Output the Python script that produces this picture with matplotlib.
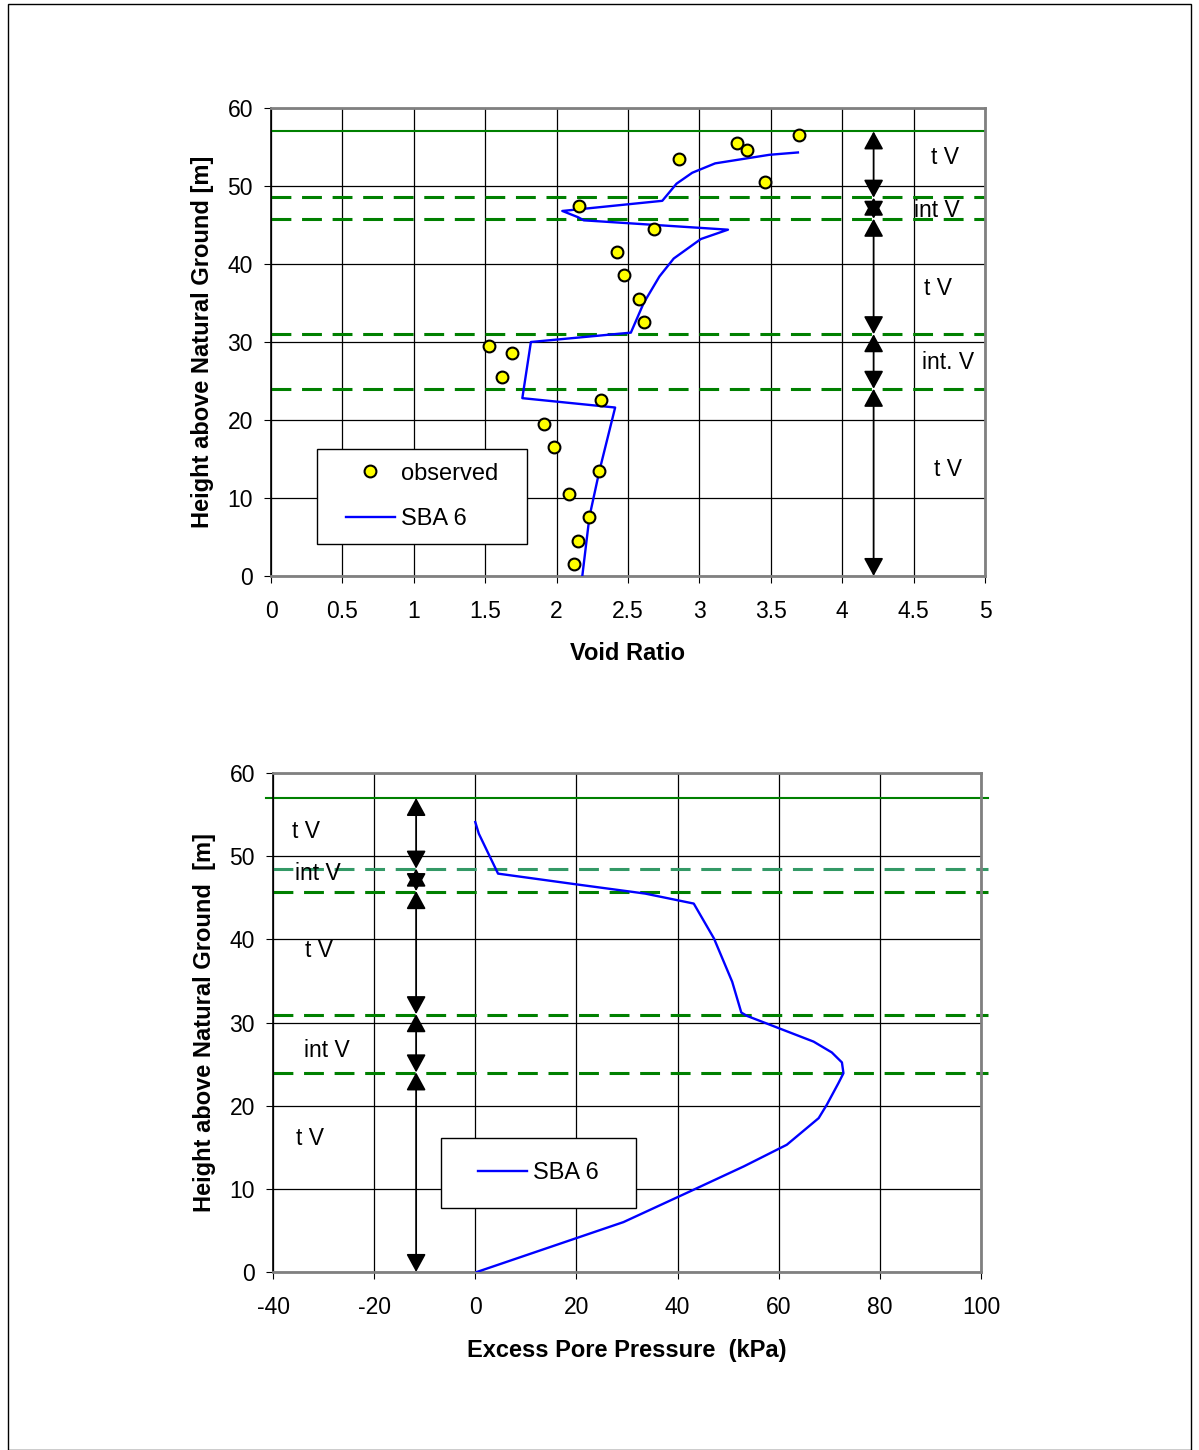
import numpy as np
import matplotlib.pyplot as plt
from matplotlib.patches import Rectangle

plt.rcParams['font.family'] = ['Liberation Sans', 'DejaVu Sans']
plt.rcParams['axes.unicode_minus'] = False

# observed void ratio vs height
obs_e = [3.70, 3.26, 3.33, 2.86, 3.46, 2.16, 2.68, 2.42, 2.47, 2.58, 2.61,
         1.53, 1.69, 1.62, 2.31, 1.91, 1.98, 2.30, 2.09, 2.23, 2.15, 2.12]
obs_h = [56.5, 55.5, 54.6, 53.5, 50.5, 47.4, 44.5, 41.5, 38.6, 35.5, 32.6,
         29.5, 28.6, 25.5, 22.6, 19.5, 16.5, 13.5, 10.5, 7.6, 4.5, 1.5]

# SBA 6 void ratio profile
sba_e = [3.69, 3.49, 3.11, 2.95, 2.84, 2.74, 2.04, 2.15, 2.19, 3.20, 3.01,
         2.82, 2.72, 2.61, 2.52, 1.82, 1.76, 2.41, 2.30, 2.23, 2.18]
sba_h = [54.3, 54.0, 52.9, 51.7, 50.3, 48.1, 46.8, 46.0, 45.6, 44.4, 43.2,
         40.7, 38.4, 35.0, 31.2, 30.0, 22.8, 21.6, 13.5, 7.6, 0.0]

# SBA 6 excess pore pressure profile
sba_u = [0.0, 0.7, 4.5, 20.1, 33.6, 43.2, 47.2, 50.8, 52.6, 53.7, 66.9, 70.5,
         72.5, 72.8, 71.8, 69.5, 67.9, 61.6, 53.1, 43.2, 29.3, 0.3]
sba_uh = [54.1, 52.7, 47.9, 46.6, 45.5, 44.3, 40.1, 34.9, 31.2, 30.8, 27.7, 26.4,
          25.2, 23.9, 22.7, 20.1, 18.5, 15.3, 12.7, 9.9, 6.0, 0.0]

# layer boundaries and labels
ground = 57.0
bounds_top = [48.6, 45.8, 31.0, 24.0]
bounds_bot = [48.5, 45.7, 30.9, 23.9]
segments = [(57, 48.5), (48.5, 45.8), (45.8, 31), (31, 24), (24, 0)]
lab_top = ['t V', 'int V', 't V', 'int. V', 't V']
lab_top_x = [4.72, 4.66, 4.67, 4.74, 4.74]
lab_top_y = [53.7, 46.8, 36.9, 27.4, 13.6]
lab_bot = ['t V', 'int V', 't V', 'int V', 't V']
lab_bot_x = [-33.5, -31.2, -31.0, -29.3, -32.6]
lab_bot_y = [53.0, 47.9, 38.7, 26.6, 16.1]

green = '#008000'
fs = 16.5
fl = 17

fig = plt.figure(figsize=(11.99, 14.5), dpi=100)
fig.patches.append(Rectangle((8 / 1199, 0), 1183 / 1199, 1446 / 1450,
                             transform=fig.transFigure, fill=False,
                             edgecolor='black', lw=1))


def style_axes(ax):
    ax.grid(True, color='black', lw=0.9)
    ax.set_axisbelow(True)
    for s in ['top', 'right', 'bottom']:
        ax.spines[s].set_color('#808080')
        ax.spines[s].set_linewidth(2)
    ax.spines['left'].set_color('black')
    ax.spines['left'].set_linewidth(1.2)
    ax.tick_params(labelsize=fs, direction='out', length=5, color='black')
    ax.tick_params(axis='x', pad=12)
    ax.tick_params(axis='y', pad=8)


def draw_arrows(ax, x):
    for a, b in segments:
        ax.annotate('', xy=(x, b), xytext=(x, a),
                    arrowprops=dict(arrowstyle='<|-|>,head_length=1.1,head_width=0.6',
                                    color='black', lw=1.3, shrinkA=0, shrinkB=0))


def legend_box(ax, x0, y0, w, h, handles=None, labels=None):
    ax.add_patch(Rectangle((x0, y0), w, h, transform=ax.transAxes, fc='white',
                           ec='black', lw=1, zorder=4.5))
    kw = dict(loc='center', bbox_to_anchor=(x0 + w / 2, y0 + h / 2),
              borderaxespad=0, fontsize=fl, frameon=False, labelspacing=1.0,
              handlelength=2.1, handletextpad=0.25)
    if handles is None:
        leg = ax.legend(**kw)
    else:
        leg = ax.legend(handles, labels, **kw)
    leg.set_zorder(5)


# top chart
ax1 = fig.add_axes([271 / 1199, 1 - 576 / 1450, 714 / 1199, 468 / 1450])
style_axes(ax1)
ax1.set_xlim(0, 5)
ax1.set_ylim(0, 60)
ax1.set_xticks(np.arange(0, 5.01, 0.5))
ax1.set_xticklabels(['0', '0.5', '1', '1.5', '2', '2.5', '3', '3.5', '4', '4.5', '5'])
ax1.set_yticks(range(0, 61, 10))
ax1.axhline(ground, color=green, lw=1.5)
for h in bounds_top:
    ax1.axhline(h, color=green, lw=2.2, dashes=(6.5, 3.5))
ax1.plot(sba_e, sba_h, color='#0000ff', lw=1.7, label='SBA 6', zorder=3)
ax1.plot(obs_e, obs_h, 'o', ms=8.5, mfc='yellow', mec='black', mew=1.5,
         label='observed', zorder=4)
draw_arrows(ax1, 4.22)
for t, x, y in zip(lab_top, lab_top_x, lab_top_y):
    ax1.text(x, y, t, fontsize=fs, ha='center', va='center')
ax1.set_xlabel('Void Ratio', fontsize=fl, fontweight='bold', labelpad=14)
ax1.set_ylabel('Height above Natural Ground [m]', fontsize=fl, fontweight='bold',
               labelpad=10)
h, l = ax1.get_legend_handles_labels()
legend_box(ax1, 46 / 714, 32 / 468, 210 / 714, 95 / 468, h[::-1], l[::-1])

# bottom chart
ax2 = fig.add_axes([273 / 1199, 1 - 1272 / 1450, 708 / 1199, 499 / 1450])
style_axes(ax2)
ax2.set_xlim(-40, 100)
ax2.set_ylim(0, 60)
ax2.set_xticks(range(-40, 101, 20))
ax2.set_yticks(range(0, 61, 10))
ax2.axhline(ground, color=green, lw=1.5, xmin=-0.01, xmax=1.01, clip_on=False)
for i, h in enumerate(bounds_bot):
    c = '#339966' if i == 0 else green
    ax2.axhline(h, color=c, lw=2.2, dashes=(6.5, 3.5), xmin=0, xmax=1.01, clip_on=False)
ax2.plot(sba_u, sba_uh, color='#0000ff', lw=1.7, label='SBA 6', zorder=3)
draw_arrows(ax2, -11.7)
for t, x, y in zip(lab_bot, lab_bot_x, lab_bot_y):
    ax2.text(x, y, t, fontsize=fs, ha='center', va='center')
ax2.set_xlabel('Excess Pore Pressure  (kPa)', fontsize=fl, fontweight='bold', labelpad=15)
ax2.set_ylabel('Height above Natural Ground  [m]', fontsize=fl, fontweight='bold',
               labelpad=10)
legend_box(ax2, 168 / 708, 64 / 499, 195 / 708, 70 / 499)

fig.savefig('out.png', dpi=100)
